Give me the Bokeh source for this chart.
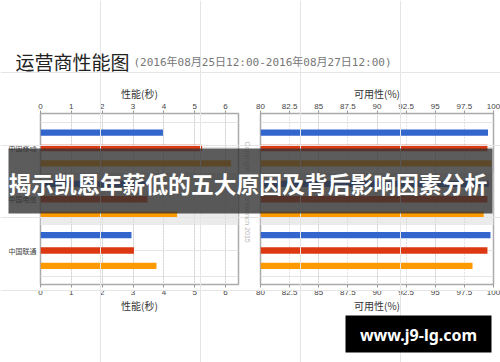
import math
from bokeh.plotting import figure
from bokeh.models import (Range1d, LinearAxis, FixedTicker, Grid, BoxAnnotation, Label,
                          NumeralTickFormatter)
from bokeh.layouts import row
from bokeh.embed import file_html
from bokeh.resources import INLINE

# ---------------- data ----------------
categories = ["中国移动", "中国电信", "中国联通"]
series_colors = ["#3366cc", "#dc3912", "#ff9900"]
perf_blue = [3.97, 3.40, 2.95]
perf_red = [5.24, 3.47, 3.03]
perf_orange = [6.18, 4.43, 3.76]
avail_blue = [99.53, 99.60, 99.74]
avail_red = [99.48, 99.48, 99.48]
avail_orange = [99.82, 99.16, 98.20]
perf_ticks = [0, 1, 2, 3, 4, 5, 6]
avail_ticks = [80, 82.5, 85, 87.5, 90, 92.5, 95, 97.5, 100]
highlight = "中国电信"
title_text = "运营商性能图"
subtitle_text = "(2016年08月25日12:00-2016年08月27日12:00)"
perf_title = "性能(秒)"
avail_title = "可用性(%)"
copyright_text = "Copyright © Networkbench 2015"
banner_text = "揭示凯恩年薪低的五大原因及背后影响因素分析"
watermark_text = "www.j9-lg.com"

CJK = "Noto Sans CJK SC"
W, H = 500, 362
TOP, BOTTOM = 113, 78
offsets = [-0.3, 0.0, 0.3]
bar_h = 0.125


def base_fig(x_range, y_range, ml, mr, mt, mb, white):
    p = figure(width=W, height=H, x_range=x_range, y_range=y_range, title=None,
               x_axis_location=None, y_axis_location=None, toolbar_location=None,
               output_backend="svg", min_border_left=ml, min_border_right=mr,
               min_border_top=mt, min_border_bottom=mb)
    p.background_fill_color = None
    p.border_fill_color = "white" if white else None
    if "frame_align" in p.properties():
        p.frame_align = False
    return p


def panel(x_range, min_left, min_right, ticks, axis_title, series, base, white):
    p = base_fig(x_range, Range1d(2.663, -0.673), min_left, min_right, TOP, BOTTOM, white)
    p.outline_line_color = "#aaaaaa"
    p.outline_line_width = 1.5

    hi = categories.index(highlight)
    p.add_layout(BoxAnnotation(top=hi - 0.5, bottom=hi + 0.5, fill_color="#ebebeb",
                               fill_alpha=1, line_color=None, level="underlay"))
    p.add_layout(Grid(dimension=0, ticker=FixedTicker(ticks=ticks),
                      grid_line_color="#c8c8c8", grid_line_dash="1 2"))

    for loc in ("above", "below"):
        ax = LinearAxis(ticker=FixedTicker(ticks=ticks), axis_label=axis_title)
        ax.formatter = NumeralTickFormatter(format="0.[0]")
        ax.axis_line_color = None
        ax.major_tick_line_color = "#999999"
        ax.major_tick_out = 3
        ax.major_tick_in = 0
        ax.minor_tick_line_color = None
        ax.major_label_text_font = "Liberation Sans"
        ax.major_label_text_font_size = "8px"
        ax.major_label_text_color = "#444444"
        ax.major_label_standoff = 2
        ax.axis_label_text_font = CJK
        ax.axis_label_text_font_size = "10px"
        ax.axis_label_text_font_style = "normal"
        ax.axis_label_text_color = "#333333"
        ax.axis_label_standoff = 0
        p.add_layout(ax, loc)

    for k, vals in enumerate(series):
        ys = [i + offsets[k] for i in range(len(categories))]
        p.hbar(y=ys, left=base, right=vals, height=bar_h,
               fill_color=series_colors[k], line_color=None)
    return p


# ---- left panel (performance) ----
pl = panel(Range1d(0, 6.42), 40, W - 238, perf_ticks, perf_title,
           [perf_blue, perf_red, perf_orange], perf_ticks[0], True)
yax = LinearAxis(ticker=FixedTicker(ticks=list(range(len(categories)))),
                 major_label_overrides={i: c for i, c in enumerate(categories)})
yax.axis_line_color = None
yax.major_tick_line_color = None
yax.minor_tick_line_color = None
yax.major_tick_out = 0
yax.major_tick_in = 0
yax.major_label_standoff = 4
yax.major_label_text_font = CJK
yax.major_label_text_font_size = "7px"
yax.major_label_text_color = "#444444"
pl.add_layout(yax, "left")

# ---- right panel (availability) ----
pr = panel(Range1d(avail_ticks[0], avail_ticks[-1]), 260, W - 493, avail_ticks, avail_title,
           [avail_blue, avail_red, avail_orange], avail_ticks[0], False)

# ---- overlay layer: titles, copyright, banner, watermark ----
pc = base_fig(Range1d(0, 1), Range1d(0, 1), 0, 0, 0, 0, False)
pc.outline_line_color = None


def sy(y):
    return H - y


def lab(x, y, text, font, size, color, align="left", style="normal", angle=0.0):
    pc.add_layout(Label(x=x, y=sy(y), x_units="screen", y_units="screen", text=text,
                        text_font=font, text_font_size=size, text_color=color,
                        text_font_style=style, text_baseline="middle", text_align=align,
                        angle=angle, level="overlay"))


def box(l, r, t, b, color, alpha):
    pc.add_layout(BoxAnnotation(left=l, right=r, top=sy(t), bottom=sy(b),
                                left_units="screen", right_units="screen",
                                top_units="screen", bottom_units="screen",
                                fill_color=color, fill_alpha=alpha, line_color=None,
                                level="overlay"))


lab(15, 61, title_text, CJK, "19px", "#222222")
lab(133, 62, subtitle_text, "'DejaVu Sans Mono', 'Noto Sans CJK SC'", "11px", "#777777")
lab(247, 141, copyright_text, "Liberation Sans", "7px", "#bbbbbb", angle=-math.pi / 2)
box(8, 492, 148, 213, "#333333", 0.8)
lab(8, 183, banner_text, CJK, "22.8px", "white", style="bold")
box(345, 491, 315, 352, "black", 1.0)
lab(418, 334, watermark_text, "Noto Sans", "16px", "white", align="center", style="bold")

pr.margin = (0, 0, 0, -W)
pc.margin = (0, 0, 0, -W)
layout = row(pl, pr, pc)

open("out.html", "w").write(file_html(layout, INLINE))
